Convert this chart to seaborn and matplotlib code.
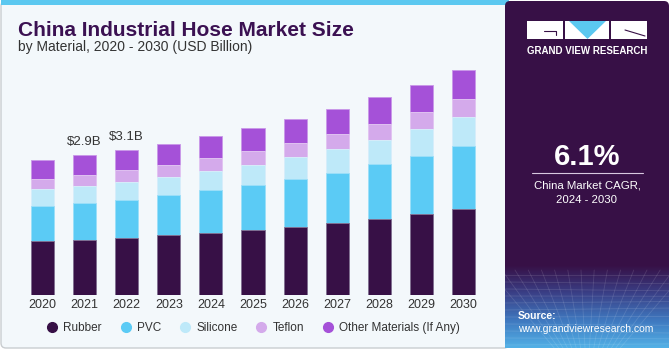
import numpy as np
import pandas as pd
import matplotlib.pyplot as plt
import seaborn as sns
from matplotlib.patches import FancyBboxPatch, Rectangle, Polygon
from matplotlib.lines import Line2D
from matplotlib.colors import LinearSegmentedColormap, to_rgb

# данные (USD Billion)
years = ['2020', '2021', '2022', '2023', '2024', '2025', '2026', '2027', '2028', '2029', '2030']
rubber = [1.13, 1.16, 1.20, 1.25, 1.30, 1.36, 1.43, 1.51, 1.60, 1.70, 1.81]
pvc = [0.74, 0.77, 0.80, 0.85, 0.90, 0.95, 1.01, 1.06, 1.15, 1.22, 1.32]
silicone = [0.35, 0.36, 0.38, 0.38, 0.41, 0.43, 0.46, 0.49, 0.51, 0.56, 0.60]
teflon = [0.22, 0.24, 0.24, 0.25, 0.27, 0.29, 0.30, 0.32, 0.34, 0.36, 0.38]
other = [0.40, 0.41, 0.43, 0.44, 0.46, 0.47, 0.49, 0.52, 0.55, 0.58, 0.62]
materials = ['Rubber', 'PVC', 'Silicone', 'Teflon', 'Other Materials (If Any)']
colors = ['#371046', '#5BCBF5', '#BEE9F9', '#D4AAEB', '#A551D8']
bar_labels = {1: '$2.9B', 2: '$3.1B'}

df = pd.DataFrame({'year': years, 'Rubber': rubber, 'PVC': pvc, 'Silicone': silicone,
                   'Teflon': teflon, 'Other Materials (If Any)': other})
cum = df[materials].cumsum(axis=1)

sns.set_theme(style='white')
plt.rcParams['font.family'] = ['Liberation Sans', 'DejaVu Sans']

W, H = 670, 350
fig = plt.figure(figsize=(6.7, 3.5), dpi=100)
fig.patch.set_facecolor('white')

# фон в пикселях
bg = fig.add_axes([0, 0, 1, 1])
bg.axis('off')
bg.add_patch(FancyBboxPatch((1, 1), 508, 347, boxstyle='round,pad=0,rounding_size=5',
                            fc='#F3F8FB', ec='#C9CDD0', lw=1))
bg.add_patch(Rectangle((1, 0), 508, 5, fc='#5BC8F0', ec='none'))
bg.add_patch(FancyBboxPatch((505, 1), 164, 347, boxstyle='round,pad=0,rounding_size=5',
                            fc='#371046', ec='none'))
# градиент внизу правой панели
grad = np.linspace(0, 1, 100)[:, None]
cmap = LinearSegmentedColormap.from_list('g', ['#371046', '#3A3F86', '#3F78BF', '#52B0E6'])
bg.imshow(grad, cmap=cmap, extent=(505, 669, 348, 265), aspect='auto', zorder=1)
for k in range(12):
    yy = 275 + k * 7
    bg.plot([505, 669], [yy, yy + 2 * np.sin(k)], color='white', alpha=0.12, lw=0.6, zorder=2)
for k in range(16):
    xx = 505 + k * 11
    bg.plot([xx + (xx - 587) * 0.2, xx - (xx - 587) * 0.6], [270, 348], color='white', alpha=0.12, lw=0.6, zorder=2)
bg.set_xlim(0, W)
bg.set_ylim(H, 0)

# логотип
bg.add_patch(Rectangle((527, 21), 36, 18, fc='white', ec='none', zorder=3))
bg.add_patch(Rectangle((565, 21), 44, 18, fc='white', ec='none', zorder=3))
bg.add_patch(Polygon([(569, 21), (606, 21), (587.5, 39)], closed=True, fc='#5BC8F0', ec='none', zorder=4))
bg.add_patch(Rectangle((611, 21), 36, 18, fc='white', ec='none', zorder=3))
bg.plot([544, 556, 556], [31, 31, 35], color='#371046', lw=0.8, zorder=5)
bg.plot([625, 645], [30, 36], color='#371046', lw=0.8, zorder=5)
bg.text(587.5, 51, 'GRAND VIEW RESEARCH', color='white', fontsize=7, fontweight='bold',
        ha='center', va='center', zorder=5)

bg.text(587, 157, '6.1%', color='white', fontsize=21, fontweight='bold', ha='center', va='center')
bg.plot([532, 643], [173, 173], color='#D8C8E0', lw=0.8)
bg.text(587, 185, 'China Market CAGR,', color='white', fontsize=8.2, ha='center', va='center')
bg.text(587, 200, '2024 - 2030', color='white', fontsize=8.2, ha='center', va='center')
bg.text(518, 316, 'Source:', color='white', fontsize=7.5, fontweight='bold', ha='left', va='center', zorder=5)
bg.text(518, 329, 'www.grandviewresearch.com', color='white', fontsize=7.5, ha='left', va='center', zorder=5)

# заголовки
bg.text(18, 36, 'China Industrial Hose Market Size', color='#3B1152', fontsize=15,
        fontweight='bold', ha='left', va='baseline')
bg.text(18, 51, 'by Material, 2020 - 2030 (USD Billion)', color='#333333', fontsize=10,
        ha='left', va='baseline')

# график
ax = fig.add_axes([10 / W, 55 / H, 485 / W, 235 / H])
ax.set_facecolor('none')
for mat, col in reversed(list(zip(materials, colors))):
    edge = tuple(0.6 * np.array(to_rgb(col)) + 0.4)  # светлая обводка сегмента
    sns.barplot(x=df['year'], y=cum[mat], color=col, width=0.55, saturation=1, ax=ax,
                edgecolor=edge, linewidth=0.6, zorder=2)

ax.set_xlim(-0.772, 10.748)
ax.set_ylim(0, 4.935)
ax.set_xlabel('')
ax.set_ylabel('')
ax.set_yticks([])
ax.tick_params(axis='x', length=0, pad=3, labelsize=9, labelcolor='#333333')
for s in ax.spines.values():
    s.set_visible(False)

for i, txt in bar_labels.items():
    ax.annotate(txt, (i, cum['Other Materials (If Any)'][i]), textcoords='offset points',
                xytext=(0, 7), ha='center', va='baseline', fontsize=9.5, color='#333333')

handles = [Line2D([0], [0], marker='o', linestyle='', markersize=7, markerfacecolor=c,
                  markeredgecolor=c) for c in colors]
fig.legend(handles, materials, loc='center', bbox_to_anchor=(253 / W, 22 / H), ncol=5,
           frameon=False, fontsize=8.5, handlelength=1.0, handletextpad=0.43,
           columnspacing=1.55, labelcolor='#333333')

plt.savefig('out.png', dpi=100)
